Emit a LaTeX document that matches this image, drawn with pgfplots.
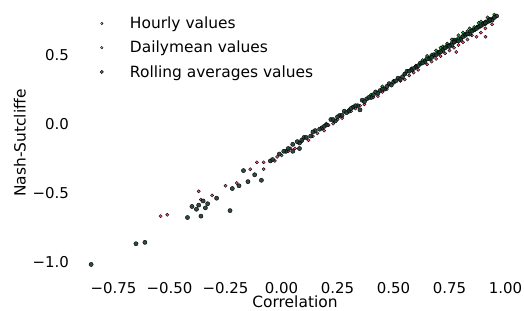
\documentclass[border=0pt]{standalone}
\usepackage{fontspec}
\setmainfont{DejaVu Sans}
\usepackage{pgfplots}
\pgfplotsset{compat=1.18}
\definecolor{cgreen}{RGB}{20,140,40}
\definecolor{cred}{RGB}{225,30,75}
\definecolor{cdark}{RGB}{25,55,45}
\begin{document}
\begin{tikzpicture}
\begin{axis}[
  scale only axis,
  width=448bp, height=276bp,
  xmin=-0.94, xmax=1.06, ymin=-1.14, ymax=0.86,
  axis line style={draw=none},
  tick style={draw=none},
  font=\fontsize{15.5}{18}\selectfont,
  ticklabel style={font=\fontsize{15}{17}\selectfont},
  xtick={-0.75,-0.5,-0.25,0,0.25,0.5,0.75,1},
  xticklabels={−0.75,−0.50,−0.25,0.00,0.25,0.50,0.75,1.00},
  ytick={-1,-0.5,0,0.5},
  yticklabels={−1.0,−0.5,0.0,0.5},
  xticklabel style={anchor=north, inner sep=0pt, yshift=-1bp},
  yticklabel style={anchor=east, inner sep=0pt, xshift=-2bp},
  xlabel={Correlation},
  ylabel={Nash-Sutcliffe},
  xlabel style={at={(axis description cs:0.5,-0.075)}, anchor=center, inner sep=1bp},
  ylabel style={at={(axis description cs:-0.114,0.5)}, anchor=center},
  legend cell align=left,
  legend style={draw=none, fill=none, at={(0.05,0.965)}, anchor=north west,
    inner sep=0pt, row sep=7bp, font=\fontsize{15.5}{18}\selectfont,
    nodes={inner sep=2bp}},
  legend image code/.code={\draw[#1, draw opacity=0, fill opacity=0] (0bp,0bp) -- (34bp,0bp); \draw[#1] plot[only marks] coordinates {(8bp,0bp)};},
]
\addplot[only marks, mark=*, mark size=1.7bp, draw=none, fill=cgreen, fill opacity=0.85,
  legend image post style={mark options={fill=gray!35, fill opacity=1}, mark size=1.2bp}]
coordinates {
(0.20,0.00) (0.30,0.10) (0.40,0.21) (0.45,0.27) (0.50,0.31)
(0.55,0.36) (0.58,0.40) (0.60,0.42) (0.62,0.43) (0.64,0.46) (0.66,0.48)
(0.68,0.49) (0.70,0.52) (0.71,0.53) (0.72,0.54) (0.73,0.55) (0.74,0.57)
(0.75,0.57) (0.76,0.59) (0.77,0.59) (0.78,0.61) (0.79,0.62) (0.80,0.62)
(0.81,0.64) (0.82,0.65) (0.83,0.65) (0.84,0.67) (0.85,0.68) (0.86,0.68)
(0.87,0.70) (0.88,0.71) (0.89,0.71) (0.90,0.73) (0.91,0.74) (0.92,0.74)
(0.93,0.76) (0.94,0.76) (0.95,0.77) (0.67,0.50) (0.72,0.56) (0.77,0.61)
(0.83,0.67) (0.88,0.73) (0.91,0.72) (0.93,0.74) (0.86,0.70)
(0.69,0.53) (0.74,0.58) (0.79,0.64) (0.81,0.66) (0.84,0.69) (0.89,0.74)
(0.92,0.77) (0.95,0.79) (0.76,0.61) (0.71,0.55) (0.65,0.49) (0.63,0.46)
};
\addlegendentry{Hourly values}
\addplot[only marks, mark=*, mark size=1.6bp, draw=none, fill=cred, fill opacity=0.75,
  legend image post style={mark options={fill=gray!55, fill opacity=1}, mark size=1.3bp}]
coordinates {
(-0.54,-0.67) (-0.51,-0.66) (-0.37,-0.49) (-0.36,-0.55) (-0.31,-0.52)
(-0.25,-0.45) (-0.20,-0.43) (-0.14,-0.33) (-0.11,-0.28) (-0.08,-0.28)
(-0.08,-0.33) (-0.03,-0.27) (0.00,-0.23) (0.03,-0.20) (0.06,-0.18)
(0.09,-0.13) (0.12,-0.12) (0.14,-0.09) (0.19,-0.05) (0.21,-0.01)
(0.25,0.03) (0.27,0.04) (0.31,0.09) (0.35,0.13) (0.37,0.14)
(0.41,0.19) (0.43,0.20) (0.47,0.25) (0.53,0.31) (0.55,0.32)
(0.59,0.37) (0.61,0.39) (0.65,0.43) (0.67,0.45) (0.71,0.49)
(0.73,0.51) (0.77,0.55) (0.79,0.57) (0.83,0.61) (0.85,0.64)
(0.89,0.66) (0.91,0.63) (0.91,0.69) (0.94,0.72) (0.87,0.63) (0.78,0.52)
(-0.02,-0.24) (0.04,-0.18) (0.16,-0.07) (0.23,0.00) (0.33,0.11)
(0.45,0.23) (0.57,0.35) (0.69,0.47) (0.75,0.53) (0.81,0.59)
};
\addlegendentry{Dailymean values}
\addplot[only marks, mark=*, mark size=2.1bp, draw=none, fill=cdark, fill opacity=0.9,
  legend image post style={mark options={fill=gray!80!black, fill opacity=1}, mark size=1.6bp}]
coordinates {
(-0.85,-1.02) (-0.65,-0.87) (-0.61,-0.86) (-0.42,-0.68) (-0.40,-0.60)
(-0.38,-0.62) (-0.36,-0.67) (-0.37,-0.59) (-0.35,-0.56) (-0.33,-0.58)
(-0.34,-0.61) (-0.29,-0.54) (-0.23,-0.63) (-0.22,-0.47) (-0.19,-0.45)
(-0.15,-0.42) (-0.17,-0.34) (-0.12,-0.37) (-0.09,-0.41) (-0.05,-0.27)
(-0.04,-0.26) (-0.01,-0.22) (0.02,-0.20) (0.05,-0.15) (0.08,-0.14)
(0.10,-0.10) (0.13,-0.09) (0.15,-0.05) (0.18,-0.03) (0.20,-0.01)
(0.22,0.03) (0.24,0.02) (0.26,0.06) (0.28,0.09) (0.30,0.09)
(0.32,0.12) (0.34,0.13) (0.36,0.17) (0.38,0.18) (0.40,0.19)
(0.42,0.23) (0.44,0.24) (0.46,0.25) (0.48,0.29) (0.50,0.30)
(0.52,0.33) (0.54,0.34) (0.56,0.38) (0.58,0.39) (0.60,0.41)
(0.62,0.44) (0.64,0.45) (0.66,0.47) (0.68,0.50) (0.70,0.51)
(0.72,0.53) (0.74,0.56) (0.76,0.57) (0.78,0.60) (0.80,0.61)
(0.82,0.64) (0.84,0.65) (0.86,0.68) (0.88,0.70) (0.90,0.72)
(0.92,0.74) (0.94,0.75) (0.96,0.78)
(0.01,-0.20) (0.07,-0.13) (0.11,-0.10) (0.17,-0.04) (0.23,0.03)
(0.29,0.08) (0.33,0.13) (0.39,0.19) (0.45,0.25) (0.51,0.31)
(0.57,0.38) (0.63,0.44) (0.69,0.50) (0.75,0.56) (0.81,0.63)
(0.87,0.69) (0.93,0.75) (0.08,-0.18) (0.35,0.10) (0.05,-0.20)
(0.03,-0.18) (0.09,-0.12) (0.14,-0.06) (0.19,-0.02) (0.25,0.05)
(0.27,0.06) (0.31,0.11) (0.37,0.16) (0.41,0.21) (0.43,0.22)
(0.47,0.27) (0.49,0.28) (0.53,0.32) (0.55,0.36) (0.59,0.40)
(0.61,0.42) (0.65,0.47) (0.67,0.48) (0.71,0.52) (0.73,0.55)
(0.77,0.59) (0.79,0.60) (0.83,0.65) (0.85,0.67) (0.89,0.71)
(0.91,0.73) (0.95,0.77)
};
\addlegendentry{Rolling averages values}
\end{axis}
\pgfresetboundingbox
\path (current axis.south west) ++(-71bp,-30bp) coordinate (bl);
\path (current axis.north east) ++(5bp,5bp) coordinate (tr);
\path (bl) rectangle (tr);
\end{tikzpicture}
\end{document}
